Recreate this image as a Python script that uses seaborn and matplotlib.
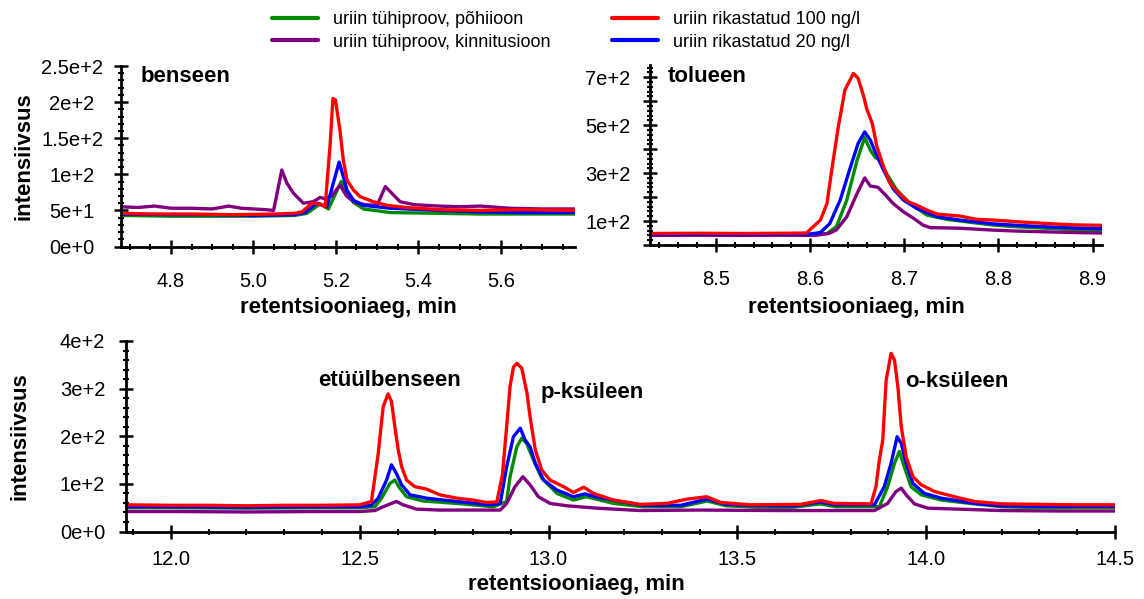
import matplotlib
matplotlib.use("Agg")
import matplotlib.pyplot as plt
from matplotlib.ticker import FixedLocator, FixedFormatter, MultipleLocator
from matplotlib.lines import Line2D
import pandas as pd
import seaborn as sns

sns.set_style("ticks")
plt.rcParams["font.family"] = ["Liberation Sans", "DejaVu Sans"]
plt.rcParams.update({"text.color": "black", "axes.labelcolor": "black", "axes.edgecolor": "black",
                     "xtick.color": "black", "ytick.color": "black"})

# ---- sample names and colours -------------------------------------------
SAMPLES = [
    "uriin tühiproov, põhiioon",
    "uriin tühiproov, kinnitusioon",
    "uriin rikastatud 100 ng/l",
    "uriin rikastatud 20 ng/l",
]
COLORS = ["#008a00", "#800080", "#ff0000", "#0000ff"]
DRAW_ORDER = [SAMPLES[0], SAMPLES[1], SAMPLES[3], SAMPLES[2]]

# ---- benseen --------------------------------------------------------------
benz_t_green = [4.68, 4.80, 4.90, 5.00, 5.10, 5.130, 5.162, 5.182, 5.213, 5.227, 5.243, 5.267, 5.332, 5.45, 5.55, 5.65, 5.78]
benz_i_green = [43, 42, 42, 42, 43, 46, 59, 52, 90, 74, 61, 52, 47, 46, 45, 45, 45]
benz_t_purple = [4.68, 4.72, 4.76, 4.80, 4.85, 4.90, 4.94, 4.97, 5.00, 5.03, 5.049, 5.069, 5.081, 5.097, 5.121, 5.145,
                 5.162, 5.174, 5.190, 5.210, 5.226, 5.243, 5.270, 5.300, 5.320, 5.356, 5.39, 5.45, 5.50, 5.55, 5.62, 5.70, 5.78]
benz_i_purple = [55, 54, 56, 53, 53, 52, 56, 53, 52, 51, 50, 106, 88, 74, 60, 62,
                 68, 66, 70, 85, 70, 62, 58, 57, 83, 62, 58, 56, 55, 56, 53, 52, 52]
benz_t_red = [4.68, 4.75, 4.85, 4.95, 5.05, 5.100, 5.118, 5.142, 5.166, 5.174, 5.186, 5.193, 5.199, 5.210, 5.218,
              5.227, 5.243, 5.259, 5.291, 5.324, 5.372, 5.453, 5.55, 5.65, 5.78]
benz_i_red = [46, 45, 45, 44, 45, 46, 48, 60, 58, 55, 140, 205, 203, 161, 120,
              92, 78, 69, 62, 57, 54, 51, 50, 51, 50]
benz_t_blue = [4.68, 4.80, 4.90, 5.00, 5.10, 5.125, 5.154, 5.178, 5.208, 5.218, 5.227, 5.243, 5.267, 5.332, 5.45, 5.55, 5.65, 5.78]
benz_i_blue = [45, 44, 44, 43, 44, 47, 60, 55, 117, 97, 78, 64, 57, 53, 50, 48, 47, 47]

# ---- tolueen --------------------------------------------------------------
tol_t_green = [8.43, 8.48, 8.53, 8.57, 8.605, 8.618, 8.628, 8.639, 8.650, 8.658, 8.664, 8.669, 8.674, 8.681, 8.692,
               8.706, 8.724, 8.745, 8.795, 8.82, 8.85, 8.88, 8.91]
tol_i_green = [42, 43, 42, 43, 43, 48, 77, 188, 355, 448, 396, 366, 355, 299, 230,
               174, 125, 107, 83, 76, 70, 64, 61]
tol_t_purple = [8.43, 8.48, 8.53, 8.57, 8.605, 8.620, 8.628, 8.639, 8.650, 8.658, 8.664, 8.672, 8.680, 8.688, 8.699,
                8.710, 8.720, 8.728, 8.735, 8.759, 8.795, 8.82, 8.85, 8.88, 8.91]
tol_i_purple = [40, 41, 40, 41, 40, 48, 63, 118, 216, 280, 246, 241, 209, 174, 139,
                111, 83, 72, 72, 70, 62, 58, 55, 52, 50]
tol_t_red = [8.43, 8.48, 8.53, 8.57, 8.596, 8.611, 8.618, 8.623, 8.630, 8.637, 8.646, 8.651, 8.657, 8.660, 8.666,
             8.671, 8.678, 8.685, 8.696, 8.704, 8.713, 8.724, 8.735, 8.759, 8.777, 8.795, 8.82, 8.85, 8.88, 8.91]
tol_i_red = [48, 49, 48, 49, 50, 104, 174, 313, 494, 647, 716, 696, 619, 570, 508,
             410, 327, 257, 209, 181, 167, 146, 129, 121, 107, 104, 97, 90, 84, 82]
tol_t_blue = [8.43, 8.48, 8.53, 8.57, 8.600, 8.611, 8.621, 8.632, 8.643, 8.651, 8.658, 8.664, 8.669, 8.678, 8.688,
              8.699, 8.713, 8.735, 8.759, 8.795, 8.82, 8.85, 8.88, 8.91]
tol_i_blue = [44, 45, 44, 45, 46, 52, 90, 188, 327, 424, 472, 438, 390, 313, 236,
              188, 153, 118, 104, 88, 82, 76, 71, 68]

# ---- etüülbenseen, p-ksüleen, o-ksüleen ---------------------------------
xyl_t_green = [11.88, 12.0, 12.2, 12.4, 12.5, 12.54, 12.558, 12.580, 12.593, 12.606, 12.624, 12.668, 12.757, 12.854,
               12.889, 12.898, 12.916, 12.929, 12.942, 12.960, 12.982, 13.022, 13.066, 13.10, 13.172, 13.25, 13.35,
               13.42, 13.47, 13.55, 13.65, 13.72, 13.76, 13.876, 13.898, 13.916, 13.929, 13.942, 13.960, 13.987,
               14.04, 14.128, 14.199, 14.3, 14.5]
xyl_i_green = [50, 50, 49, 50, 50, 52, 70, 101, 108, 91, 73, 64, 59, 52,
               63, 115, 178, 196, 185, 150, 112, 80, 66, 73, 59, 52, 52,
               64, 54, 51, 51, 58, 52, 52, 94, 143, 168, 136, 94, 77,
               66, 58, 52, 50, 50]
xyl_t_purple = [11.88, 12.0, 12.2, 12.4, 12.5, 12.54, 12.562, 12.597, 12.615, 12.650, 12.712, 12.80, 12.872, 12.889,
                12.911, 12.932, 12.951, 12.973, 13.004, 13.049, 13.128, 13.243, 13.40, 13.60, 13.80, 13.863, 13.898,
                13.920, 13.934, 13.947, 13.969, 14.004, 14.199, 14.35, 14.5]
xyl_i_purple = [42, 42, 41, 42, 42, 44, 52, 63, 56, 47, 45, 45, 45, 59,
                94, 115, 98, 73, 59, 54, 49, 44, 45, 44, 44, 44, 59,
                84, 91, 77, 58, 49, 44, 43, 43]
xyl_t_red = [11.88, 12.0, 12.1, 12.2, 12.3, 12.4, 12.5, 12.531, 12.549, 12.562, 12.575, 12.584, 12.593, 12.602,
             12.611, 12.624, 12.646, 12.677, 12.712, 12.757, 12.80, 12.836, 12.863, 12.878, 12.889, 12.898, 12.907,
             12.916, 12.929, 12.943, 12.951, 12.965, 12.982, 13.004, 13.04, 13.066, 13.093, 13.119, 13.172, 13.243,
             13.314, 13.367, 13.419, 13.456, 13.535, 13.668, 13.721, 13.756, 13.854, 13.867, 13.876, 13.885, 13.894,
             13.907, 13.916, 13.925, 13.934, 13.947, 13.965, 13.987, 14.022, 14.075, 14.128, 14.199, 14.3, 14.4, 14.5]
xyl_i_red = [56, 55, 55, 54, 55, 55, 56, 63, 164, 262, 289, 273, 220, 171,
             136, 108, 94, 89, 77, 70, 66, 61, 62, 120, 220, 305, 345,
             353, 343, 290, 241, 171, 129, 108, 94, 82, 93, 80, 66, 57,
             59, 68, 73, 61, 56, 57, 65, 59, 58, 94, 150, 192, 318,
             374, 360, 304, 220, 157, 115, 98, 84, 73, 63, 58, 57, 56, 56]
xyl_t_blue = [11.88, 12.0, 12.2, 12.4, 12.5, 12.53, 12.549, 12.571, 12.584, 12.597, 12.611, 12.633, 12.677, 12.757,
              12.845, 12.872, 12.889, 12.907, 12.925, 12.938, 12.951, 12.965, 12.987, 13.022, 13.066, 13.097, 13.128,
              13.19, 13.25, 13.35, 13.42, 13.47, 13.55, 13.65, 13.72, 13.76, 13.863, 13.889, 13.907, 13.923, 13.934,
              13.947, 13.965, 13.995, 14.04, 14.128, 14.199, 14.3, 14.5]
xyl_i_blue = [52, 52, 51, 52, 52, 55, 70, 108, 140, 122, 98, 77, 70, 63,
              56, 59, 136, 199, 217, 192, 178, 143, 108, 87, 73, 79, 72,
              63, 55, 55, 68, 57, 54, 54, 62, 56, 56, 94, 143, 199, 185,
              143, 101, 80, 70, 59, 54, 53, 53]

# ---- axis ticks -----------------------------------------------------------
benz_xticks = [4.8, 5.0, 5.2, 5.4, 5.6]
benz_xlabels = ["4.8", "5.0", "5.2", "5.4", "5.6"]
benz_yticks = [0, 50, 100, 150, 200, 250]
benz_ylabels = ["0e+0", "5e+1", "1e+2", "1.5e+2", "2e+2", "2.5e+2"]

tol_xticks = [8.5, 8.6, 8.7, 8.8, 8.9]
tol_xlabels = ["8.5", "8.6", "8.7", "8.8", "8.9"]
tol_yticks = [0, 100, 200, 300, 400, 500, 600, 700]
tol_ylabels = ["", "1e+2", "", "3e+2", "", "5e+2", "", "7e+2"]

xyl_xticks = [12.0, 12.5, 13.0, 13.5, 14.0, 14.5]
xyl_xlabels = ["12.0", "12.5", "13.0", "13.5", "14.0", "14.5"]
xyl_yticks = [0, 100, 200, 300, 400]
xyl_ylabels = ["0e+0", "1e+2", "2e+2", "3e+2", "4e+2"]

XLABEL = "retentsiooniaeg, min"
YLABEL = "intensiivsus"
BOLD = 16
TICKSIZE = 14.5

W, H = 1144, 599
fig = plt.figure(figsize=(W / 100, H / 100), dpi=100)


def frame(series):
    rows = []
    for name, t, i in series:
        rows += [{"aeg": a, "intensiivsus": b, "proov": name} for a, b in zip(t, i)]
    return pd.DataFrame(rows)


def px_axes(left, right, top, bottom):
    return fig.add_axes([left / W, 1 - bottom / H, (right - left) / W, (bottom - top) / H])


def style(ax, xlim, ylim, xt, xl, yt, yl, xminor, yminor, ypad, xpad, xlab_xy, ylab_xy):
    ax.set_xlim(*xlim)
    ax.set_ylim(*ylim)
    ax.xaxis.set_major_locator(FixedLocator(xt))
    ax.xaxis.set_major_formatter(FixedFormatter(xl))
    ax.yaxis.set_major_locator(FixedLocator(yt))
    ax.yaxis.set_major_formatter(FixedFormatter(yl))
    ax.xaxis.set_minor_locator(MultipleLocator(xminor))
    ax.yaxis.set_minor_locator(MultipleLocator(yminor))
    for s in ("top", "right"):
        ax.spines[s].set_visible(False)
    for s in ("left", "bottom"):
        ax.spines[s].set_linewidth(2.0)
        ax.spines[s].set_color("black")
    ax.tick_params(which="major", direction="inout", length=10.5, width=1.8, color="black",
                   labelsize=TICKSIZE, labelcolor="black")
    ax.tick_params(which="minor", direction="inout", length=5, width=1.5, color="black")
    ax.tick_params(axis="y", which="major", pad=ypad)
    ax.tick_params(axis="x", which="major", pad=xpad)
    for lab in ax.get_yticklabels():
        lab.set_horizontalalignment("center")
    ax.set_xlabel(XLABEL, fontsize=BOLD, fontweight="bold")
    ax.set_ylabel(YLABEL, fontsize=BOLD, fontweight="bold")
    ax.xaxis.set_label_coords(*xlab_xy)
    ax.yaxis.set_label_coords(*ylab_xy)
    ax.set_facecolor("white")


palette = dict(zip(SAMPLES, COLORS))


def draw(ax, series):
    sns.lineplot(data=frame(series), x="aeg", y="intensiivsus", hue="proov", hue_order=DRAW_ORDER,
                 palette=palette, estimator=None, linewidth=2.4, legend=False, ax=ax)


# benseen panel
ax1 = px_axes(121, 575, 66, 246.5)
draw(ax1, [(SAMPLES[0], benz_t_green, benz_i_green), (SAMPLES[1], benz_t_purple, benz_i_purple),
           (SAMPLES[2], benz_t_red, benz_i_red), (SAMPLES[3], benz_t_blue, benz_i_blue)])
style(ax1, (4.679, 5.78), (0, 250), benz_xticks, benz_xlabels, benz_yticks, benz_ylabels,
      0.05, 10, 30, 13, (0.5, -0.28), (-0.19, 0.5))
ax1.text(4.726, 235, "benseen", fontsize=BOLD, fontweight="bold", ha="left", va="center")

# tolueen panel
ax2 = px_axes(650, 1102, 65.3, 245)
draw(ax2, [(SAMPLES[0], tol_t_green, tol_i_green), (SAMPLES[1], tol_t_purple, tol_i_purple),
           (SAMPLES[2], tol_t_red, tol_i_red), (SAMPLES[3], tol_t_blue, tol_i_blue)])
style(ax2, (8.43, 8.91), (0, 750), tol_xticks, tol_xlabels, tol_yticks, tol_ylabels,
      0.02, 20, 25, 13, (0.456, -0.29), (-0.19, 0.5))
ax2.set_ylabel("")
ax2.text(8.449, 702, "tolueen", fontsize=BOLD, fontweight="bold", ha="left", va="center")

# aromaatsete ühendite paneel
ax3 = px_axes(126, 1115, 341, 531.5)
draw(ax3, [(SAMPLES[0], xyl_t_green, xyl_i_green), (SAMPLES[1], xyl_t_purple, xyl_i_purple),
           (SAMPLES[2], xyl_t_red, xyl_i_red), (SAMPLES[3], xyl_t_blue, xyl_i_blue)])
style(ax3, (11.881, 14.5), (0, 400), xyl_xticks, xyl_xlabels, xyl_yticks, xyl_ylabels,
      0.1, 20, 26, 8, (0.455, -0.225), (-0.097, 0.5))
for x, y, name in [(12.58, 318, "etüülbenseen"), (13.116, 291, "p-ksüleen"), (14.082, 315, "o-ksüleen")]:
    ax3.text(x, y, name, fontsize=BOLD, fontweight="bold", ha="center", va="center")

# legend in two columns above the panels
handles = {n: Line2D([], [], color=c, linewidth=3) for n, c in zip(SAMPLES, COLORS)}
for col, x0 in (([SAMPLES[0], SAMPLES[1]], 272), ([SAMPLES[2], SAMPLES[3]], 612)):
    fig.legend([handles[n] for n in col], col, loc="upper left", bbox_to_anchor=(x0 / W, 1 - 11 / H),
               frameon=False, fontsize=13, borderpad=0, borderaxespad=0, handlelength=2.55,
               handletextpad=0.83, labelspacing=0.32)

fig.savefig("out.png", dpi=100, facecolor="white")
